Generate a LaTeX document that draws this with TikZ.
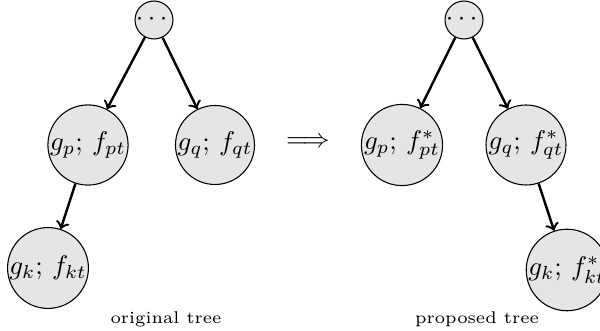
\documentclass[tikz,border=0pt]{standalone}
\usepackage{amsmath}

\begin{document}
\begin{tikzpicture}[
      x=0.37pt, y=0.37pt,
      hoja/.style={circle, draw=black, fill=black!10, inner sep=0pt, minimum size=29.2pt},
      raiz/.style={circle, draw=black, fill=black!10, inner sep=0pt, minimum size=13pt},
      flecha/.style={->, line width=0.9pt},
      etqArbol/.style={font=\fontsize{6.3}{7.5}\selectfont, align=center}
    ]
    \useasboundingbox (0,0) rectangle (600,331);

    % --- original tree ---
    \begin{scope}[xshift=0]
      \node[raiz] (r1) at (154,311) {$\cdots$};
      \node[hoja] (p1) at (88,186) {$g_p;\, f_{pt}$};
      \node[hoja] (q1) at (215,186) {$g_q;\, f_{qt}$};
      \node[hoja] (k1) at (48,63) {$g_k;\, f_{kt}$};
      \draw[flecha] (r1) -- (p1);
      \draw[flecha] (r1) -- (q1);
      \draw[flecha] (p1) -- (k1);
      \node[etqArbol] (t1) at (166,12) {original tree};
    \end{scope}

    \node (impl) at (308,188) {$\Longrightarrow$};

    % --- proposed tree ---
    \begin{scope}[xshift=0]
      \node[raiz] (r2) at (464,311) {$\cdots$};
      \node[hoja] (p2) at (402,186) {$g_p;\, f^*_{pt}$};
      \node[hoja] (q2) at (526,186) {$g_q;\, f^*_{qt}$};
      \node[hoja] (k2) at (567,61) {$g_k;\, f^*_{kt}$};
      \draw[flecha] (r2) -- (p2);
      \draw[flecha] (r2) -- (q2);
      \draw[flecha] (q2) -- (k2);
      \node[etqArbol] (t2) at (477,12) {proposed tree};
    \end{scope}
  \end{tikzpicture}
\end{document}
